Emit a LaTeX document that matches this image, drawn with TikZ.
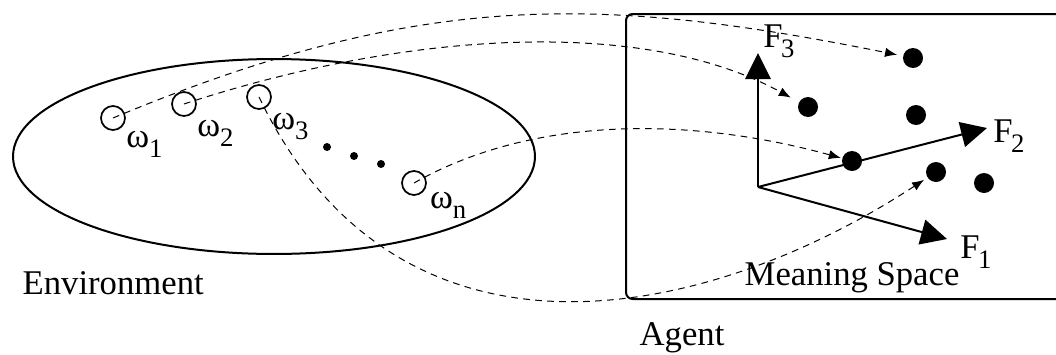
\documentclass[tikz,border=0pt]{standalone}
\usepackage{fontspec}
\setmainfont{Liberation Serif}
\usetikzlibrary{arrows.meta, positioning}
\tikzset{every node/.style={font=\fontsize{26}{30}\selectfont}}
% Lowered index as in the original figure.
\newcommand{\lowsub}[2][0pt]{\kern#1\raisebox{-7.5pt}{\fontsize{20}{20}\selectfont #2}}

\begin{document}
\begin{tikzpicture}[x=0.75pt, y=-0.75pt,
    world/.style={circle, draw, line width=1.3pt, inner sep=0pt, minimum size=18pt},
    gapdot/.style={circle, fill=black, inner sep=0pt, minimum size=6pt},
    meaning/.style={circle, fill=black, inner sep=0pt, minimum size=15pt},
    sym/.style={inner sep=0pt},
    axis/.style={-{Triangle[length=19.5pt, width=19pt]}, line width=1.5pt},
    link/.style={-{Latex[length=9pt, width=7pt]}, line width=0.75pt,
      dash pattern=on 5pt off 4pt, shorten >=3pt}]
  % Bounding box fixe (taille originale)
  \path[use as bounding box] (0,0) rectangle (1056,354);

  % Environment.
  \draw[line width=1.5pt] (274,156.5) ellipse [x radius=195.75pt, y radius=73.1pt];
  \node[anchor=base west] (envtext) at (18,294) {Environment};

  % Objects in the environment.
  \node[world] (w1) at (113,118) {};
  \node[world] (w2) at (184,104) {};
  \node[world] (w3) at (259,97) {};
  \node[world] (wn) at (414,183) {};
  \node[sym, below right=3pt and 3pt of w1] (lw1) {ω\lowsub{1}};
  \node[sym, below right=5pt and 3pt of w2] (lw2) {ω\lowsub{2}};
  \node[sym, below right=5pt and 3pt of w3] (lw3) {ω\lowsub{3}};
  \node[sym, below right=0pt and 5pt of wn] (lwn) {ω\lowsub{n}};
  \node[gapdot] (g1) at (327,147) {};
  \node[gapdot] (g2) at (354,156) {};
  \node[gapdot] (g3) at (381,164) {};

  % Agent box, cut at the right border.
  \begin{scope}
    \clip (0,0) rectangle (1056,354);
    \draw[line width=1.5pt, rounded corners=5pt] (626,14) rectangle (1080,299);
  \end{scope}
  \node[anchor=base west] (agenttext) at (635,345) {Agent};
  \node[anchor=base west] (spacetext) at (740,285) {Meaning Space};

  % Feature axes.
  \coordinate (o) at (758,187);
  \coordinate (f1) at (947,239);
  \coordinate (f2) at (987,128);
  \coordinate (f3) at (758,53);
  \draw[axis] (o) -- (f1);
  \draw[axis] (o) -- (f2);
  \draw[axis] (o) -- (f3);
  \node[sym, anchor=base west] (lf1) at (960,258) {F\lowsub[-1pt]{1}};
  \node[sym, anchor=base west] (lf2) at (993,142) {F\lowsub[-1pt]{2}};
  \node[sym, anchor=base west] (lf3) at (763,47) {F\lowsub[-1pt]{3}};

  % Meanings.
  \node[meaning] (m1) at (913,58) {};
  \node[meaning] (m2) at (808,107) {};
  \node[meaning] (m3) at (916,115) {};
  \node[meaning] (m4) at (852,161) {};
  \node[meaning] (m5) at (936,172) {};
  \node[meaning] (m6) at (984,183) {};

  % Mapping from objects to meanings.
  \draw[link, shorten >=4.5pt] (w1.center) .. controls (420,-10) and (600,-5) .. (m1);
  \draw[link, shorten >=7pt] (w2.center) .. controls (400,33) and (640,15) .. (m2);
  \draw[link] (w3.center) .. controls (400,390) and (710,320) .. (m5);
  \draw[link, shorten >=1pt] (wn.center) .. controls (534,115) and (692,117) .. (m4);
\end{tikzpicture}
\end{document}
